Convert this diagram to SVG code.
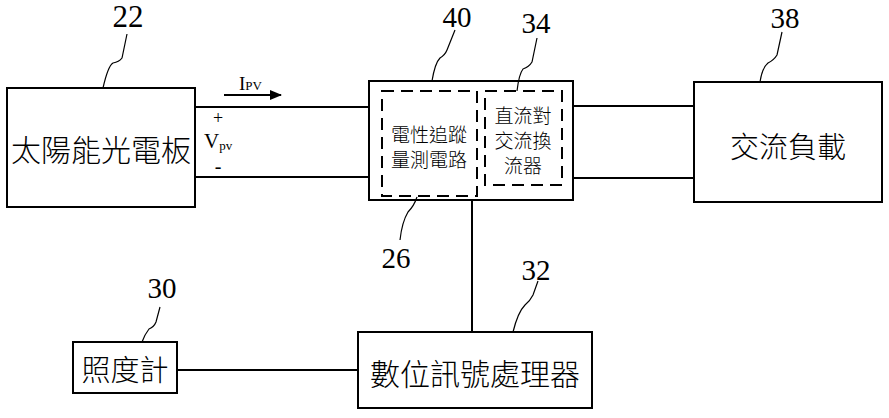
<svg xmlns="http://www.w3.org/2000/svg" width="889" height="418" viewBox="0 0 889 418">
<style>
.box{fill:#fff;stroke:#000;stroke-width:2}
.dash{fill:none;stroke:#000;stroke-width:2;stroke-dasharray:12,7}
.wire{fill:none;stroke:#000;stroke-width:2}
.lead{fill:none;stroke:#000;stroke-width:1.2}
.cjk{font-family:"Noto Sans CJK TC","Noto Sans CJK SC",sans-serif;font-weight:300;fill:#000;text-anchor:middle;dominant-baseline:central}
.num{font-family:"Liberation Serif","DejaVu Serif",serif;fill:#000;text-anchor:middle}
.sym{font-family:"Liberation Serif","DejaVu Serif",serif;fill:#000}
</style>
<defs>
<marker id="arrow" viewBox="0 0 12 10" refX="11" refY="5" markerWidth="12" markerHeight="10" markerUnits="userSpaceOnUse" orient="auto"><path d="M0,0 L12,5 L0,10 Z" fill="#000"/></marker>
</defs>
<g id="connectors">
<line class="wire" x1="195" y1="107" x2="369" y2="107"/>
<line class="wire" x1="195" y1="177" x2="369" y2="177"/>
<line class="wire" x1="573" y1="106" x2="694" y2="106"/>
<line class="wire" x1="573" y1="178" x2="694" y2="178"/>
<line class="wire" x1="472" y1="200" x2="472" y2="332"/>
<line class="wire" x1="177" y1="370" x2="358" y2="370"/>
<line class="wire" x1="224" y1="95" x2="281" y2="95" marker-end="url(#arrow)"/>
</g>
<g id="labels-pv">
<text class="sym" x="239" y="90" font-size="19">I<tspan font-size="13">PV</tspan></text>
<text class="sym" x="218" y="124" font-size="18" text-anchor="middle">+</text>
<text class="sym" x="204" y="148" font-size="21">V<tspan font-size="13" dy="2">pv</tspan></text>
<text class="sym" x="218" y="173" font-size="20" text-anchor="middle">-</text>
</g>
<g id="n22">
<rect class="box" x="7" y="88" width="188" height="119"/>
<text class="cjk" x="101" y="148" font-size="30">太陽能光電板</text>
<text class="num" x="128" y="27" font-size="31">22</text>
<path class="lead" d="M127,34 L122,58 Q119,62 113,63 Q108,66 103,88"/>
</g>
<g id="n40">
<rect class="box" x="369" y="81" width="204" height="119"/>
<text class="num" x="457" y="27" font-size="29">40</text>
<path class="lead" d="M455,30 L447,50 Q445,55 440,58 Q435,63 432,81"/>
</g>
<g id="n26">
<rect class="dash" x="382" y="91" width="95" height="105"/>
<text class="cjk" x="429" y="133" font-size="19">電性追蹤</text>
<text class="cjk" x="429" y="158" font-size="19">量測電路</text>
<text class="num" x="396" y="268" font-size="29">26</text>
<path class="lead" d="M400,240 Q402,222 408,212 Q414,206 417,197"/>
</g>
<g id="n34">
<rect class="dash" x="485" y="91" width="77" height="94"/>
<text class="cjk" x="523" y="114" font-size="19">直流對</text>
<text class="cjk" x="523" y="139" font-size="19">交流換</text>
<text class="cjk" x="523" y="164" font-size="19">流器</text>
<text class="num" x="536" y="33" font-size="29">34</text>
<path class="lead" d="M537,38 L532,62 Q529,67 523,69 Q519,74 517,91"/>
</g>
<g id="n38">
<rect class="box" x="694" y="82" width="188" height="120"/>
<text class="cjk" x="788" y="145" font-size="29">交流負載</text>
<text class="num" x="785" y="28" font-size="29">38</text>
<path class="lead" d="M782,32 L777,55 Q774,60 768,63 Q762,68 760,82"/>
</g>
<g id="n30">
<rect class="box" x="73" y="342" width="104" height="51"/>
<text class="cjk" x="125" y="368" font-size="29">照度計</text>
<text class="num" x="162" y="298" font-size="29">30</text>
<path class="lead" d="M160,307 L156,322 Q154,327 149,329 Q145,334 142,342"/>
</g>
<g id="n32">
<rect class="box" x="358" y="332" width="234" height="76"/>
<text class="cjk" x="475" y="372" font-size="30">數位訊號處理器</text>
<text class="num" x="536" y="280" font-size="29">32</text>
<path class="lead" d="M538,281 L533,295 Q530,301 525,305 Q518,312 513,332"/>
</g>
</svg>
